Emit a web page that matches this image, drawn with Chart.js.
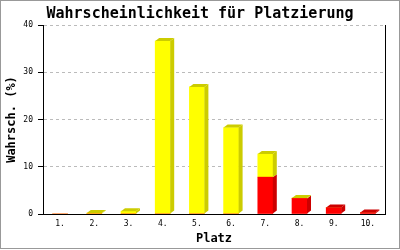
<!DOCTYPE html>
<html>
<head>
<meta charset="utf-8">
<script src="https://cdn.jsdelivr.net/npm/chart.js@4"></script>
<style>
  body { margin: 0; background: #fff; }
  #wrap { width: 400px; height: 250px; }
</style>
</head>
<body>
<div id="wrap"><canvas id="myChart" width="400" height="250"></canvas></div>
<script>
let plaetze = ['1.', '2.', '3.', '4.', '5.', '6.', '7.', '8.', '9.', '10.'];
let rot = [0, 0, 0, 0, 0, 0, 7.8, 3.3, 1.35, 0.3];
let gelb = [0, 0.2, 0.6, 36.6, 26.9, 18.3, 4.9, 0.1, 0, 0];
let yTicks = [0, 10, 20, 30, 40];

const seiten = ['#cc0000', '#cccc00'];
const dx = 4, dy = 3;

// draws the side and top faces so the bars look 3d
const balken3d = {
    id: 'balken3d',
    afterDatasetsDraw(chart) {
        const ctx = chart.ctx;
        const n = chart.data.labels.length;
        ctx.save();
        for (let i = 0; i < n; i++) {
            let oben = -1;
            chart.data.datasets.forEach((ds, d) => {
                if (ds.data[i] > 0) oben = d;
            });
            chart.data.datasets.forEach((ds, d) => {
                if (!(ds.data[i] > 0)) return;
                const el = chart.getDatasetMeta(d).data[i];
                const r = el.x + el.width / 2;
                const l = el.x - el.width / 2;
                ctx.fillStyle = seiten[d];
                ctx.beginPath();
                ctx.moveTo(r, el.y);
                ctx.lineTo(r + dx, el.y - dy);
                ctx.lineTo(r + dx, el.base - dy);
                ctx.lineTo(r, el.base);
                ctx.closePath();
                ctx.fill();
                if (d === oben) {
                    ctx.beginPath();
                    ctx.moveTo(l, el.y);
                    ctx.lineTo(l + dx, el.y - dy);
                    ctx.lineTo(r + dx, el.y - dy);
                    ctx.lineTo(r, el.y);
                    ctx.closePath();
                    ctx.fill();
                }
            });
        }
        const a = chart.chartArea;
        ctx.strokeStyle = '#000';
        ctx.lineWidth = 1;
        ctx.beginPath();
        ctx.moveTo(Math.round(a.right) + 0.5, a.top);
        ctx.lineTo(Math.round(a.right) + 0.5, a.bottom);
        ctx.stroke();
        ctx.strokeStyle = '#999';
        ctx.strokeRect(0.5, 0.5, 399, 248);
        ctx.restore();
    }
};

let ctx = document.getElementById('myChart').getContext('2d');
let chart = new Chart(ctx, {
    type: 'bar',
    data: {
        labels: plaetze,
        datasets: [
            {
                label: 'rot',
                backgroundColor: '#ff0000',
                data: rot,
                barThickness: 15
            },
            {
                label: 'gelb',
                backgroundColor: '#ffff00',
                data: gelb,
                barThickness: 15
            }
        ]
    },
    options: {
        responsive: false,
        animation: false,
        layout: { padding: 0 },
        plugins: {
            legend: { display: false },
            tooltip: { enabled: false },
            title: {
                display: true,
                text: 'Wahrscheinlichkeit für Platzierung',
                color: '#000',
                font: { family: 'DejaVu Sans Mono', size: 15, weight: 'bold', lineHeight: 1.2 },
                padding: { top: 5, bottom: 2 }
            }
        },
        scales: {
            x: {
                stacked: true,
                afterFit(scale) { scale.height = 36; },
                grid: { display: false, drawTicks: false, tickLength: 0 },
                border: { display: true, color: '#000', width: 1 },
                ticks: {
                    color: '#000',
                    padding: 5,
                    font: { family: 'DejaVu Sans Mono', size: 8 }
                },
                title: {
                    display: true,
                    text: 'Platz',
                    color: '#000',
                    font: { family: 'DejaVu Sans Mono', size: 12, weight: 'bold', lineHeight: 1.2 },
                    padding: { top: 0, bottom: 4 }
                }
            },
            y: {
                stacked: true,
                min: 0,
                max: 40,
                afterFit(scale) { scale.width = 43; },
                afterBuildTicks(scale) { scale.ticks = yTicks.map(v => ({ value: v })); },
                grid: {
                    color: '#bbbbbb',
                    tickColor: '#000',
                    tickLength: 5,
                    tickBorderDash: []
                },
                border: { display: true, color: '#000', width: 1, dash: [3, 3] },
                ticks: {
                    color: '#000',
                    padding: 5,
                    font: { family: 'DejaVu Sans Mono', size: 8 }
                },
                title: {
                    display: true,
                    text: 'Wahrsch. (%)',
                    color: '#000',
                    font: { family: 'DejaVu Sans Mono', size: 12, weight: 'bold', lineHeight: 1.2 },
                    padding: { top: 5, bottom: 0 }
                }
            },
            rechts: {
                type: 'linear',
                position: 'right',
                afterFit(scale) { scale.width = 15; },
                grid: { display: false, drawTicks: false },
                border: { display: false },
                ticks: { display: false }
            }
        }
    },
    plugins: [balken3d]
});
</script>
</body>
</html>
